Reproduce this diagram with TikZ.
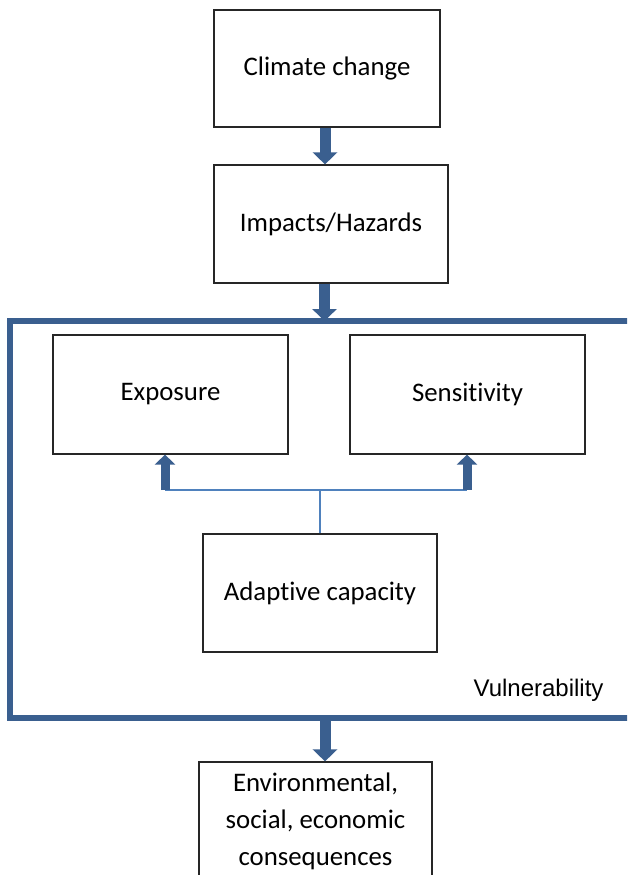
\documentclass[tikz,border=0pt]{standalone}
\usepackage{fontspec}
\setmainfont{Carlito}[Ligatures=NoCommon]
\newfontfamily\arialf{Liberation Sans}
\usetikzlibrary{arrows.meta}
\definecolor{darkblue}{HTML}{3A5F8F}
\definecolor{lineblue}{HTML}{4F81BD}
\begin{document}
\begin{tikzpicture}[x=1pt,y=-1pt,
  box/.style={draw=black!85, line width=1.2pt, fill=white, inner sep=0pt, align=center, font=\fontsize{26.8}{37}\selectfont},
  bigarrow/.style={draw=darkblue, line width=11pt, -{Triangle[width=24pt,length=12pt]}},
  smallarrow/.style={draw=darkblue, line width=9pt, -{Triangle[width=20pt,length=10pt]}},
  vframe/.style={draw=darkblue, line width=6pt, line join=miter},
  link/.style={draw=lineblue, line width=2pt}]
\clip (0,0) rectangle (627,875);
\fill[white] (0,0) rectangle (627,875);

\node[box, minimum width=226pt, minimum height=117pt] (climate) at (327,68.5) {Climate change};
\node[box, minimum width=234pt, minimum height=118pt] (impacts) at (331,224) {Impacts/Hazards};
\node[box, minimum width=235pt, minimum height=119pt] (exposure) at (170.5,394.5) {Exposure};
\node[box, minimum width=235pt, minimum height=119pt] (sensitivity) at (467.5,394.5) {Sensitivity};
\node[box, minimum width=234pt, minimum height=118pt] (adaptive) at (320,593) {Adaptive capacity};
\node[box, minimum width=233pt, minimum height=118pt] (cons) at (315.5,821) {Environmental,\\ social, economic\\ consequences};

\node[anchor=east, font=\arialf\fontsize{24}{28}\selectfont] (vuln) at (607,690) {Vulnerability};

\draw[vframe] (640,321) -- (10,321) -- (10,718) -- (640,718);

\coordinate (axis) at (325,0);
\coordinate (vtop) at (324.5,321);
\coordinate (vbot) at (325,718);
\coordinate (jl) at (165,490);
\coordinate (jr) at (467,490);
\coordinate (jm) at (320,490);

\draw[bigarrow] (climate.south -| axis) -- (impacts.north -| axis);
\draw[bigarrow] (impacts.south -| vtop) -- (vtop);
\draw[bigarrow] (vbot) -- (cons.north -| vbot);

\draw[link] (jl) -- (jr);
\draw[link] (adaptive.north -| jm) -- (jm);
\draw[smallarrow] (jl) -- (jl |- exposure.south);
\draw[smallarrow] (jr) -- (jr |- sensitivity.south);
\end{tikzpicture}
\end{document}
